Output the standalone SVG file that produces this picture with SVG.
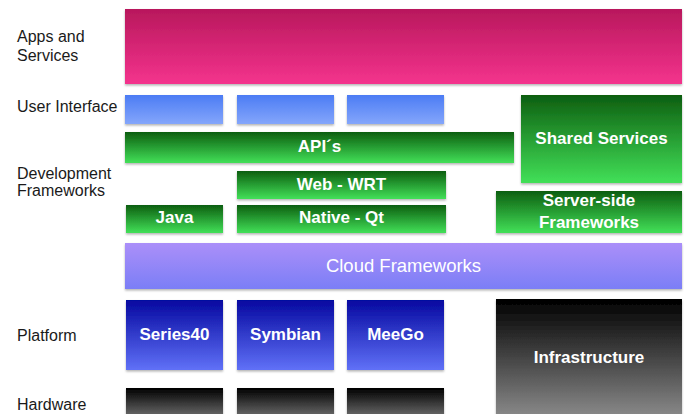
<svg xmlns="http://www.w3.org/2000/svg" width="689" height="414" viewBox="0 0 689 414">
<defs>
<linearGradient id="gPink" x1="0" y1="0" x2="0" y2="1"><stop offset="0" stop-color="#b8185c"/><stop offset="1" stop-color="#f4338d"/></linearGradient>
<linearGradient id="gUI" x1="0" y1="0" x2="0" y2="1"><stop offset="0" stop-color="#4c7cf4"/><stop offset="1" stop-color="#84a6fb"/></linearGradient>
<linearGradient id="gGreen" x1="0" y1="0" x2="0" y2="1"><stop offset="0" stop-color="#0d5e10"/><stop offset="1" stop-color="#42e058"/></linearGradient>
<linearGradient id="gCloud" x1="0" y1="0" x2="0" y2="1"><stop offset="0" stop-color="#ab8ff9"/><stop offset="1" stop-color="#7b7ef6"/></linearGradient>
<linearGradient id="gPlat" x1="0" y1="0" x2="0" y2="1"><stop offset="0" stop-color="#0508a0"/><stop offset="1" stop-color="#6071f7"/></linearGradient>
<linearGradient id="gBlack" x1="0" y1="0" x2="0" y2="1"><stop offset="0" stop-color="#000000"/><stop offset="1" stop-color="#8c8c8c"/></linearGradient>
<linearGradient id="gHw" x1="0" y1="0" x2="0" y2="1"><stop offset="0" stop-color="#000000"/><stop offset="1" stop-color="#707070"/></linearGradient>
<filter id="sh" x="-5%" y="-10%" width="110%" height="130%"><feDropShadow dx="0" dy="1.5" stdDeviation="1.2" flood-color="#000" flood-opacity="0.3"/></filter>
</defs>
<style>
.lbl{font-family:"Liberation Sans",Arial,sans-serif;font-size:16px;fill:#1a1a1a}
.t{font-family:"Liberation Sans",Arial,sans-serif;font-size:17px;font-weight:bold;fill:#ffffff;text-anchor:middle}
.box{filter:url(#sh)}
</style>
<rect width="689" height="414" fill="#ffffff"/>
<g id="labels">
<text class="lbl" x="17" y="42">Apps and</text>
<text class="lbl" x="17" y="61">Services</text>
<text class="lbl" x="17" y="112">User Interface</text>
<text class="lbl" x="17" y="179">Development</text>
<text class="lbl" x="17" y="196">Frameworks</text>
<text class="lbl" x="17" y="341">Platform</text>
<text class="lbl" x="17" y="410">Hardware</text>
</g>
<g id="apps"><rect class="box" x="125" y="9" width="557" height="75" fill="url(#gPink)"/></g>
<g id="ui1"><rect class="box" x="125" y="95" width="98" height="29" fill="url(#gUI)"/></g>
<g id="ui2"><rect class="box" x="237" y="95" width="97" height="29" fill="url(#gUI)"/></g>
<g id="ui3"><rect class="box" x="347" y="95" width="97" height="29" fill="url(#gUI)"/></g>
<g id="shared"><rect class="box" x="521" y="95" width="161" height="88" fill="url(#gGreen)"/><text class="t" x="601.5" y="144">Shared Services</text></g>
<g id="apis"><rect class="box" x="125" y="132" width="389" height="31" fill="url(#gGreen)"/><text class="t" x="319.5" y="152">API´s</text></g>
<g id="web"><rect class="box" x="237" y="171" width="209" height="28" fill="url(#gGreen)"/><text class="t" x="341.5" y="189.5">Web - WRT</text></g>
<g id="java"><rect class="box" x="126" y="205" width="97" height="28" fill="url(#gGreen)"/><text class="t" x="174.5" y="223">Java</text></g>
<g id="native"><rect class="box" x="237" y="205" width="209" height="28" fill="url(#gGreen)"/><text class="t" x="341.5" y="223">Native - Qt</text></g>
<g id="server"><rect class="box" x="496" y="191" width="186" height="42" fill="url(#gGreen)"/><text class="t" x="589" y="206">Server-side</text><text class="t" x="589" y="228">Frameworks</text></g>
<g id="cloud"><rect class="box" x="125" y="243" width="557" height="46" fill="url(#gCloud)"/><text class="t" x="403.5" y="272" style="font-weight:normal;font-size:18.5px">Cloud Frameworks</text></g>
<g id="series40"><rect class="box" x="126" y="300" width="97" height="70" fill="url(#gPlat)"/><text class="t" x="174.5" y="340">Series40</text></g>
<g id="symbian"><rect class="box" x="237" y="300" width="97" height="70" fill="url(#gPlat)"/><text class="t" x="285.5" y="340">Symbian</text></g>
<g id="meego"><rect class="box" x="347" y="300" width="97" height="70" fill="url(#gPlat)"/><text class="t" x="395.5" y="340">MeeGo</text></g>
<g id="infra"><rect class="box" x="496" y="299" width="186" height="120" fill="url(#gBlack)"/><text class="t" x="589" y="363">Infrastructure</text></g>
<g id="hw1"><rect class="box" x="126" y="388" width="97" height="30" fill="url(#gHw)"/></g>
<g id="hw2"><rect class="box" x="237" y="388" width="97" height="30" fill="url(#gHw)"/></g>
<g id="hw3"><rect class="box" x="347" y="388" width="97" height="30" fill="url(#gHw)"/></g>
<g id="connectors"/>
</svg>
